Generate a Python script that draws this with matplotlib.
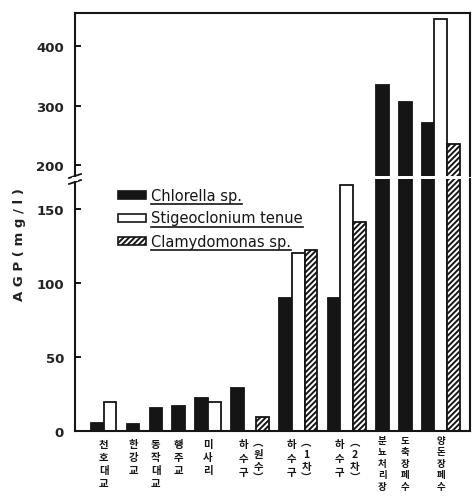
import matplotlib
matplotlib.use("Agg")
import matplotlib.pyplot as plt
from matplotlib.patches import Rectangle
from matplotlib.lines import Line2D

# ---------------- data ----------------
sites = ["천호대교", "한강교", "동작대교", "행주교", "미사리",
         "하수구|원수", "하수구|1차", "하수구|2차",
         "분뇨처리장", "도축장폐수", "양돈장폐수"]
chlorella = [5.5, 4.7, 15.5, 17, 22, 29, 90, 90, 334, 306, 270]
stigeo = [19.5, None, None, None, 19.5, 0, 120, 166, None, None, 445]
clamy = [None, None, None, None, None, 9.5, 122, 141, None, None, 235]
series_names = ["Chlorella sp.", "Stigeoclonium tenue", "Clamydomonas sp."]
lower_ticks = [0, 50, 100, 150]
upper_ticks = [200, 300, 400]
ylabel = "A G P ( m g / l )"

# ---------------- layout ----------------
plt.rcParams['font.family'] = ['DejaVu Sans']
plt.rcParams['hatch.linewidth'] = 1.4
W, H = 475, 502
fig = plt.figure(figsize=(W / 100, H / 100), dpi=100)
fig.patch.set_facecolor('white')

x0, x1 = 75, 470
lo_bot, lo_top = 432, 180
up_bot, up_top = 177, 14
ax_lo = fig.add_axes([x0 / W, (H - lo_bot) / H, (x1 - x0) / W, (lo_bot - lo_top) / H])
ax_up = fig.add_axes([x0 / W, (H - up_bot) / H, (x1 - x0) / W, (up_bot - up_top) / H], sharex=ax_lo)

bw, gap, lead, trail = 1.0, 0.8, 1.26, 0.8
styles = [dict(facecolor='#151515', edgecolor='#151515', hatch=None),
          dict(facecolor='white', edgecolor='#151515', hatch=None),
          dict(facecolor='white', edgecolor='#151515', hatch='//////')]
all_series = [chlorella, stigeo, clamy]

pos = lead
centers = []
for gi in range(len(sites)):
    start = pos
    for si, ser in enumerate(all_series):
        v = ser[gi]
        if v is None:
            continue
        for ax in (ax_lo, ax_up):
            ax.bar(pos, v, width=bw, align='edge', linewidth=1.3, **styles[si])
        pos += bw
    centers.append((start + pos) / 2)
    pos += gap
total = pos - gap + trail

for ax in (ax_lo, ax_up):
    ax.set_xlim(0, total)
    ax.set_xticks([])
    for s in ax.spines.values():
        s.set_linewidth(1.5)
        s.set_color('#151515')
    ax.tick_params(axis='y', direction='in', length=4, width=1.3, labelsize=9.5, pad=8)

ax_lo.set_ylim(0, 170)
ax_up.set_ylim(182, 455)
ax_lo.set_yticks(lower_ticks)
ax_up.set_yticks(upper_ticks)
for ax in (ax_lo, ax_up):
    for lab in ax.get_yticklabels():
        lab.set_fontweight('bold')
        lab.set_color('#222222')
ax_lo.spines['top'].set_visible(False)
ax_up.spines['bottom'].set_visible(False)

# y label
fig.text(20 / W, 1 - 245 / H, ylabel, rotation=90, ha='center', va='center',
         fontsize=9.5, fontweight='bold', color='#222222')

# break marks on left spine
for yy in (177, 183):
    fig.add_artist(Line2D([69 / W, 81 / W], [1 - (yy + 2) / H, 1 - (yy - 2) / H],
                          color='#151515', lw=1.3))
fig.add_artist(Rectangle((72 / W, 1 - 182 / H), 6 / W, 4 / H, facecolor='white',
                         edgecolor='none', transform=fig.transFigure, zorder=5))

# x labels (vertical Korean text, one glyph per text)
kfont = ['Noto Sans CJK KR', 'DejaVu Sans']
ppu = (x1 - x0) / total  # pixels per x unit


def vtext(xpix, chars, step, top=440, size=7.5):
    for i, ch in enumerate(chars):
        fig.text(xpix / W, 1 - (top + i * step) / H, ch, ha='center', va='top',
                 fontsize=size, fontweight='bold', family=kfont, color='#151515')


for c, name in zip(centers, sites):
    xc = x0 + c * ppu
    if '|' in name:
        main, sub = name.split('|')
        vtext(xc - 7, list(main), 14)
        vtext(xc + 8, ["︵"] + list(sub) + ["︶"], 12, top=438)
    elif len(name) < 5:
        vtext(xc, list(name), 13, top=440)
    else:
        vtext(xc, list(name), 11.5, top=436, size=6.8)

# legend (manual)
rows = [196, 219, 242]
texts = []
for si, (yy, nm) in enumerate(zip(rows, series_names)):
    ya = (lo_bot - yy) / (lo_bot - lo_top)
    ax_lo.add_patch(Rectangle(((118 - x0) / (x1 - x0), ya - 0.016), 28 / (x1 - x0), 0.032,
                              transform=ax_lo.transAxes, linewidth=1.2, **styles[si]))
    t = ax_lo.text((151 - x0) / (x1 - x0), ya, nm, transform=ax_lo.transAxes, ha='left',
                   va='center', fontsize=10.5, color='#151515')
    texts.append(t)

fig.canvas.draw()
r = fig.canvas.get_renderer()
for t in texts:
    bb = t.get_window_extent(renderer=r)
    fig.add_artist(Line2D([bb.x0 / W, bb.x1 / W], [(bb.y0 - 1) / H, (bb.y0 - 1) / H],
                          color='#151515', lw=1.2))

fig.savefig("out.png", dpi=100, facecolor='white')
